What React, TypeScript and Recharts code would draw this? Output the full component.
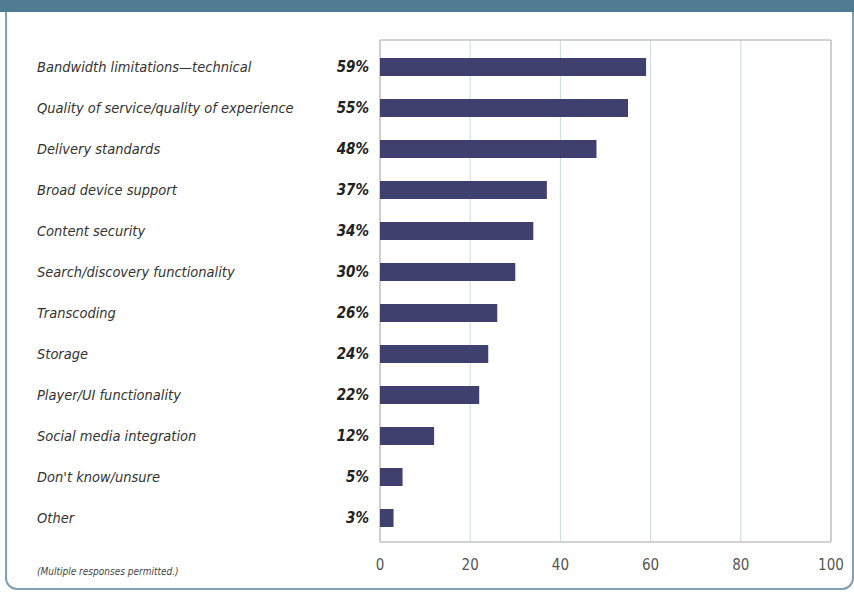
import { BarChart, Bar, XAxis, YAxis, CartesianGrid } from 'recharts'

const categories = [
  'Bandwidth limitations\u2014technical',
  'Quality of service/quality of experience',
  'Delivery standards',
  'Broad device support',
  'Content security',
  'Search/discovery functionality',
  'Transcoding',
  'Storage',
  'Player/UI functionality',
  'Social media integration',
  "Don't know/unsure",
  'Other',
]
const values = [59, 55, 48, 37, 34, 30, 26, 24, 22, 12, 5, 3]
const xTicks = [0, 20, 40, 60, 80, 100]

const FONT = '"DejaVu Sans Condensed", "DejaVu Sans", sans-serif'

const data = categories.map((name, i) => ({ name, value: values[i] }))

const CategoryTick = (props: any) => {
  const { y, payload } = props
  const v = values[payload.index]
  return (
    <g>
      <text x={37} y={y} dy={5} fontSize={14.5} fontStyle='italic' fill='#333' fontFamily={FONT}>
        {payload.value}
      </text>
      <text
        x={369}
        y={y}
        dy={5}
        fontSize={15}
        fontStyle='italic'
        fontWeight='bold'
        textAnchor='end'
        fill='#222'
        fontFamily={FONT}
      >
        {v}%
      </text>
    </g>
  )
}

// outline of the plot area, taken from the chart's own offset
const frameRows = ({ offset }: any) => [offset.top, offset.top + offset.height]
const frameCols = ({ offset }: any) => [offset.left, offset.left + offset.width]

export default function App() {
  return (
    <div style={{ position: 'absolute', left: 0, top: 0, width: 854, height: 592, background: '#fff' }}>
      <div
        style={{
          position: 'absolute',
          left: 5,
          top: 0,
          width: 845,
          height: 576,
          borderLeft: '2px solid #7f9fb2',
          borderRight: '2px solid #7f9fb2',
          borderBottom: '2px solid #7f9fb2',
          borderTop: '12px solid #4f7b93',
          borderRadius: '0 0 12px 12px',
        }}
      />
      <div style={{ position: 'absolute', left: 0, top: 0, width: 854, height: 12, background: '#4f7b93' }} />
      <BarChart
        width={854}
        height={592}
        data={data}
        layout='vertical'
        margin={{ top: 40, right: 23, bottom: 20, left: 0 }}
        style={{ position: 'absolute', left: 0, top: 0 }}
      >
        <CartesianGrid horizontal={false} stroke='#c9dbe6' />
        <CartesianGrid
          stroke='#c4c4c4'
          strokeWidth={1.5}
          horizontalCoordinatesGenerator={frameRows}
          verticalCoordinatesGenerator={frameCols}
        />
        <XAxis
          type='number'
          domain={[0, 100]}
          ticks={xTicks}
          axisLine={false}
          tickLine={false}
          tickMargin={11}
          height={30}
          tick={{ fontSize: 15, fill: '#555', fontFamily: FONT }}
        />
        <YAxis
          type='category'
          dataKey='name'
          width={380}
          axisLine={false}
          tickLine={false}
          padding={{ top: 6, bottom: 4 }}
          tick={<CategoryTick />}
          interval={0}
        />
        <Bar dataKey='value' fill='#40406e' barSize={18} isAnimationActive={false} />
      </BarChart>
      <div
        style={{
          position: 'absolute',
          left: 37,
          top: 566,
          fontSize: 10,
          fontStyle: 'italic',
          color: '#444',
          fontFamily: FONT,
        }}
      >
        (Multiple responses permitted.)
      </div>
    </div>
  )
}
